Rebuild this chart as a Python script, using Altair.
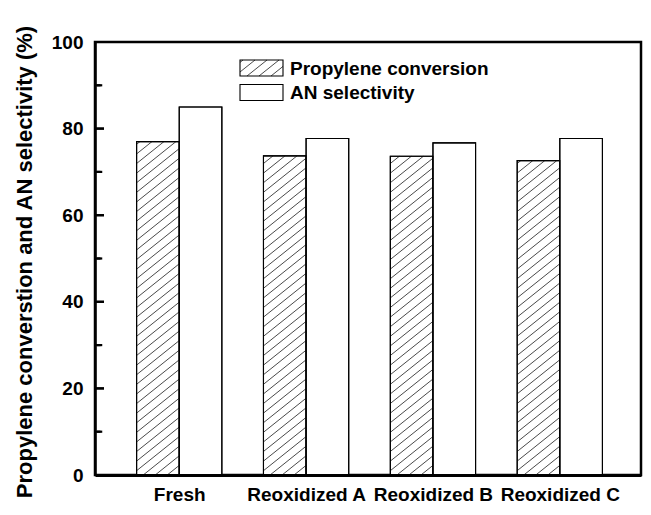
import json
import altair as alt
import pandas as pd

# ---------------- data ----------------
categories = ["Fresh", "Reoxidized A", "Reoxidized B", "Reoxidized C"]
series = ["Propylene conversion", "AN selectivity"]
propylene_conversion = [77.0, 73.7, 73.6, 72.6]
an_selectivity = [85.0, 77.7, 76.7, 77.7]
y_major = [0, 20, 40, 60, 80, 100]
y_minor = [10, 30, 50, 70, 90]
y_title = "Propylene converstion and AN selectivity (%)"

# ---------------- layout ----------------
W, H = 546, 433
XMIN, XMAX = -0.664, 3.64
BAR_W = 0.336
PPX = W / (XMAX - XMIN)
PPY = H / 100.0
FONT = "Liberation Sans"
SLOPE, SPACING = 0.8, 9.6


def hatch(w, h, s=SLOPE, d=SPACING):
    """'/' hatch segments clipped to a w x h box (y up, pixels)."""
    segs = []
    c = -s * w
    while c < h:
        lo = max(0.0, -c / s)
        hi = min(w, (h - c) / s)
        if hi > lo + 0.3:
            segs.append((lo, s * lo + c, hi, s * hi + c))
        c += d
    return segs


def px_to_x(px):
    return XMIN + px / PPX


def top_to_y(py):
    return (H - py) / PPY


bar_rows, line_rows = [], []
for i, cat in enumerate(categories):
    vals = [propylene_conversion[i], an_selectivity[i]]
    starts = [i - BAR_W, i]
    for k in range(2):
        bar_rows.append({"x0": starts[k], "x1": starts[k] + BAR_W, "y0": 0.0, "v": vals[k],
                         "fillc": "white", "sw": 1.1})
    for (a, b, c2, d2) in hatch(BAR_W * PPX, vals[0] * PPY):
        line_rows.append({"hx1": starts[0] + a / PPX, "hy1": b / PPY,
                          "hx2": starts[0] + c2 / PPX, "hy2": d2 / PPY})
bars_only_df = pd.DataFrame(bar_rows)

# inward y ticks as thin black rectangles, drawn by the same rect mark as the bars
half = 1.1 / PPY
tick_rows = []
for v in y_major[1:-1]:
    tick_rows.append({"x0": XMIN, "x1": px_to_x(9), "y0": v - half, "v": v + half,
                      "fillc": "black", "sw": 0.0})
for v in y_minor:
    tick_rows.append({"x0": XMIN, "x1": px_to_x(5.5), "y0": v - half, "v": v + half,
                      "fillc": "black", "sw": 0.0})
rects_df = pd.DataFrame(bar_rows + tick_rows)

# legend (pixel layout inside plot -> data units)
LEG_X, LEG_Y, SW_W, SW_H, ROW = 145, 18, 43, 16, 24.5
leg_rows, leg_text = [], []
for k, name in enumerate(series):
    top = LEG_Y + k * ROW
    leg_rows.append({"lx0": px_to_x(LEG_X), "lx1": px_to_x(LEG_X + SW_W),
                     "ly0": top_to_y(top + SW_H), "ly1": top_to_y(top)})
    leg_text.append({"tx": px_to_x(LEG_X + SW_W + 7), "ty": top_to_y(top + 14.5),
                     "label": name})
    if k == 0:
        for (a, b, c2, d2) in hatch(SW_W, SW_H):
            line_rows.append({"hx1": px_to_x(LEG_X + a), "hy1": top_to_y(top + SW_H - b),
                              "hx2": px_to_x(LEG_X + c2), "hy2": top_to_y(top + SW_H - d2)})

lines_df = pd.DataFrame(line_rows)
ticks_df = pd.DataFrame({"t": y_major[1:-1] + y_minor,
                         "len": [9] * 4 + [5.5] * 5})
leg_df = pd.DataFrame(leg_rows)
legt_df = pd.DataFrame(leg_text)

xs = alt.Scale(domain=[XMIN, XMAX], nice=False, zero=False)
ys = alt.Scale(domain=[0, 100], nice=False, zero=False)

x_axis = alt.Axis(values=[0, 1, 2, 3], labelExpr=json.dumps(categories) + "[datum.value]",
                  title=None, ticks=False, tickSize=0, grid=False,
                  labelFont=FONT, labelFontSize=19, labelFontWeight="bold",
                  labelColor="black", labelBaseline="alphabetic", labelPadding=25,
                  labelOverlap=False, labelFlush=False, zindex=1,
                  domainColor="black", domainWidth=3)
y_axis = alt.Axis(values=y_major, title=y_title, ticks=False, tickSize=0, grid=False,
                  zindex=1,
                  labelFont=FONT, labelFontSize=19, labelFontWeight="bold",
                  labelColor="black", labelPadding=12,
                  titleFont=FONT, titleFontSize=22, titleFontWeight="bold",
                  titleColor="black", titleAngle=270, titleX=-64, titleY=219.5,
                  titleAlign="center", titleBaseline="alphabetic",
                  domainColor="black", domainWidth=2.5)

rects = alt.Chart(rects_df).mark_rect(stroke="black").encode(
    x=alt.X("x0:Q", scale=xs, axis=x_axis),
    x2="x1:Q",
    y=alt.Y("y0:Q", scale=ys, axis=y_axis),
    y2="v:Q",
    fill=alt.Fill("fillc:N", scale=None, legend=None),
    strokeWidth=alt.StrokeWidth("sw:Q", scale=None, legend=None),
)
leg_box_fill = alt.Chart(leg_df).mark_rect(fill="white").encode(
    x="lx0:Q", x2="lx1:Q", y="ly0:Q", y2="ly1:Q")
line_layer = alt.Chart(lines_df).mark_rule(color="#1a1a1a", strokeWidth=0.8).encode(
    x="hx1:Q", x2="hx2:Q", y="hy1:Q", y2="hy2:Q")
outline = alt.Chart(bars_only_df).mark_rect(fillOpacity=0, stroke="black", strokeWidth=1.1).encode(
    x="x0:Q", x2="x1:Q", y="y0:Q", y2="v:Q")
leg_box = alt.Chart(leg_df).mark_rect(fillOpacity=0, stroke="black", strokeWidth=1.1).encode(
    x="lx0:Q", x2="lx1:Q", y="ly0:Q", y2="ly1:Q")
leg_txt = alt.Chart(legt_df).mark_text(align="left", baseline="alphabetic", font=FONT,
                                       fontSize=19, fontWeight="bold", color="black").encode(
    x="tx:Q", y="ty:Q", text="label:N")
tick_marks = alt.Chart(ticks_df).mark_tick(orient="horizontal", color="black",
                                           thickness=2.2, opacity=1).encode(
    y="t:Q", x=alt.value(4.5), size=alt.Size("len:Q", scale=None, legend=None))

chart = alt.layer(rects, leg_box_fill, line_layer, outline, leg_box, leg_txt,
                  tick_marks).properties(
    width=W, height=H,
    autosize=alt.AutoSizeParams(type="none"),
    padding={"left": 87, "top": 34, "right": 2, "bottom": 30},
).configure_view(stroke="black", strokeWidth=2.5)

chart.save("out.html", embed_options={"renderer": "svg", "actions": False})
